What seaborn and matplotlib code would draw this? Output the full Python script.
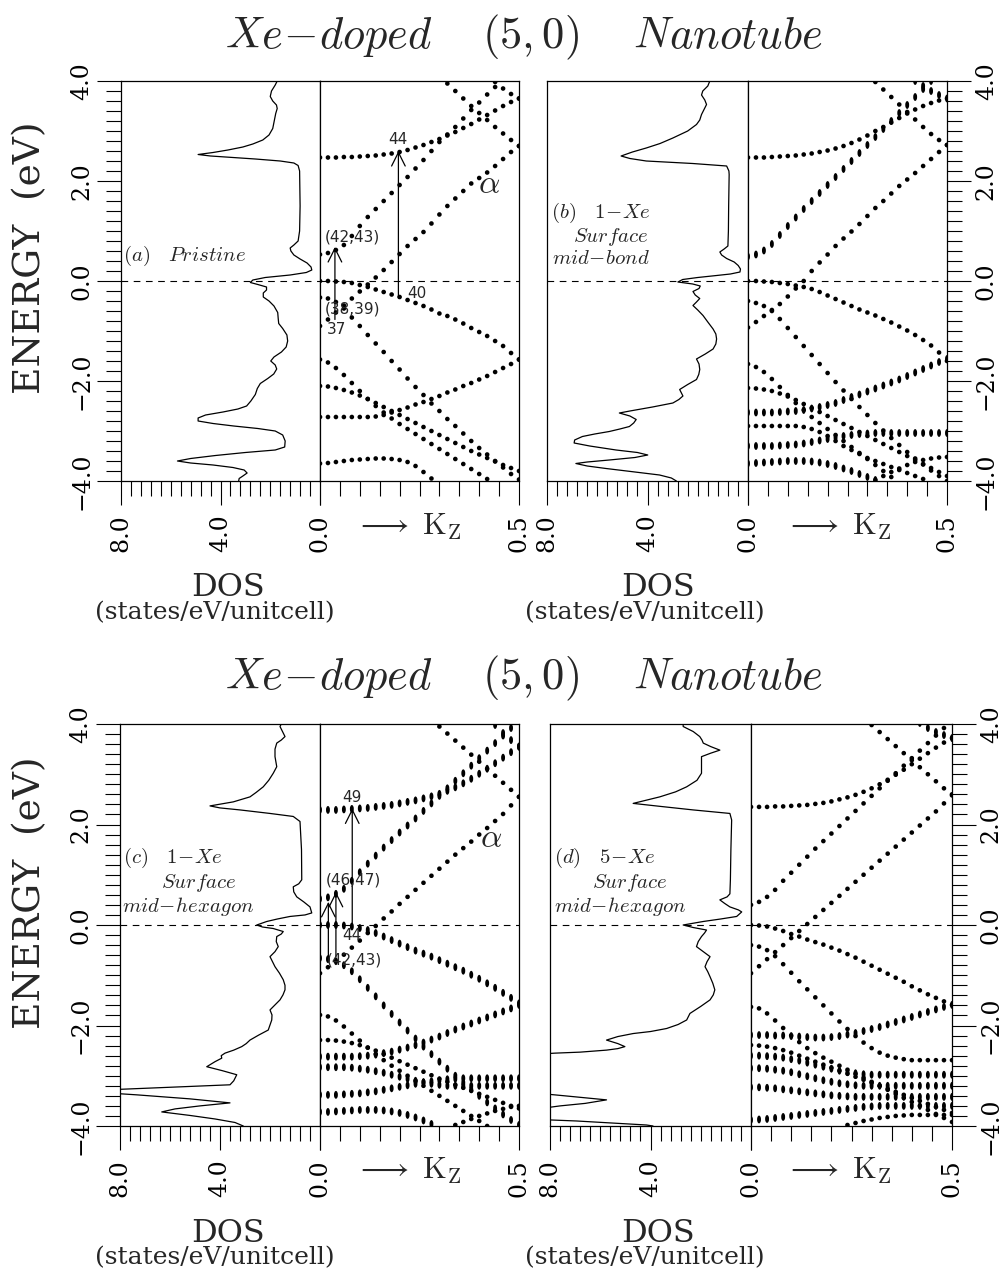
"""Xe-doped (5,0) nanotube: DOS + band structure, four panels (a)-(d)."""

import numpy as np
import pandas as pd
import matplotlib
matplotlib.use("Agg")
import matplotlib.pyplot as plt
import seaborn as sns
from matplotlib.markers import MarkerStyle
from matplotlib.transforms import Affine2D
from matplotlib.ticker import MultipleLocator, FixedLocator

W, H = 1001, 1275
NA = np.nan

# ── axis ticks / labels ──────────────────────────────────────────────────────
Y_TICKS = [-4, -2, 0, 2, 4]
Y_LABELS = ["\u22124.0", "\u22122.0", "0.0", "2.0", "4.0"]
DOS_TICKS = [8, 4, 0]
DOS_LABELS = ["8.0", "4.0", "0.0"]
KZ_TICKS = [0.0, 0.5]
KZ_LABELS = ["", "0.5"]

# k_z sample points of the band dots
KZ = [0.00, 0.02, 0.04, 0.06, 0.08, 0.10, 0.12, 0.14, 0.16, 0.18, 0.20, 0.22, 0.24,
      0.26, 0.28, 0.30, 0.32, 0.34, 0.36, 0.38, 0.40, 0.42, 0.44, 0.46, 0.48, 0.50]

# ── DOS curves: (energy, states/eV/unitcell) ─────────────────────────────────
DOS_A = [
    (4.00, 1.72), (3.92, 1.80), (3.80, 1.95), (3.69, 2.00), (3.60, 1.90), (3.52, 1.75),
    (3.45, 1.72), (3.35, 1.78), (3.20, 1.84), (3.05, 1.90), (2.92, 2.05), (2.82, 2.30),
    (2.74, 2.70), (2.68, 3.10), (2.62, 3.70), (2.57, 4.30), (2.53, 4.90), (2.50, 4.40),
    (2.47, 3.50), (2.44, 2.60), (2.40, 1.60), (2.36, 1.05), (2.31, 0.88), (2.20, 0.82),
    (1.50, 0.80), (1.00, 0.82), (0.80, 0.88), (0.72, 1.05), (0.66, 1.20), (0.60, 1.17),
    (0.52, 1.05), (0.44, 0.80), (0.36, 0.52), (0.28, 0.36), (0.22, 0.33), (0.17, 0.55),
    (0.12, 1.20), (0.07, 2.20), (0.02, 2.70), (-0.03, 2.80), (-0.07, 2.50), (-0.12, 2.15),
    (-0.18, 2.15), (-0.24, 2.28), (-0.32, 2.28), (-0.40, 2.05), (-0.50, 1.85), (-0.63, 1.70),
    (-0.75, 1.68), (-0.85, 1.66), (-0.95, 1.50), (-1.08, 1.33), (-1.20, 1.30), (-1.32, 1.36),
    (-1.42, 1.55), (-1.52, 1.85), (-1.60, 1.98), (-1.68, 1.80), (-1.76, 1.74), (-1.86, 1.86),
    (-1.95, 2.10), (-2.05, 2.40), (-2.15, 2.52), (-2.27, 2.60), (-2.40, 2.78), (-2.50, 2.95),
    (-2.56, 3.30), (-2.62, 3.90), (-2.68, 4.60), (-2.74, 4.90), (-2.80, 4.90), (-2.85, 4.30),
    (-2.90, 3.47), (-2.95, 2.50), (-3.00, 1.80), (-3.08, 1.50), (-3.20, 1.40), (-3.32, 1.42),
    (-3.38, 1.80), (-3.43, 3.00), (-3.49, 4.20), (-3.55, 5.20), (-3.60, 5.73), (-3.64, 5.20),
    (-3.68, 4.30), (-3.73, 3.50), (-3.78, 3.05), (-3.84, 2.93), (-3.90, 3.10), (-3.95, 3.25),
    (-4.00, 3.27),
]
DOS_B = [
    (4.00, 1.52), (3.90, 1.60), (3.80, 1.80), (3.72, 1.85), (3.62, 1.72), (3.53, 1.65),
    (3.43, 1.75), (3.33, 1.85), (3.22, 1.92), (3.13, 2.05), (3.00, 2.40), (2.86, 2.99),
    (2.75, 3.50), (2.66, 4.05), (2.58, 4.60), (2.50, 5.05), (2.45, 4.70), (2.40, 4.05),
    (2.35, 2.20), (2.30, 0.85), (2.20, 0.76), (2.13, 0.75), (1.50, 0.77), (1.00, 0.78),
    (0.70, 0.80), (0.64, 0.95), (0.58, 1.12), (0.52, 1.05), (0.45, 0.85), (0.38, 0.55),
    (0.31, 0.39), (0.24, 0.30), (0.18, 0.32), (0.14, 0.70), (0.11, 1.25), (0.07, 2.00),
    (0.03, 2.60), (-0.02, 2.79), (-0.06, 2.20), (-0.10, 1.90), (-0.15, 1.95), (-0.21, 2.19),
    (-0.28, 2.10), (-0.35, 1.92), (-0.42, 2.05), (-0.49, 2.19), (-0.58, 2.00), (-0.69, 1.79),
    (-0.82, 1.60), (-0.96, 1.39), (-1.06, 1.28), (-1.16, 1.25), (-1.26, 1.28), (-1.36, 1.39),
    (-1.46, 1.70), (-1.56, 2.05), (-1.66, 1.95), (-1.77, 1.92), (-1.87, 1.96), (-1.97, 2.05),
    (-2.07, 2.40), (-2.17, 2.72), (-2.24, 2.65), (-2.30, 2.59), (-2.37, 2.75), (-2.44, 2.99),
    (-2.52, 3.80), (-2.60, 4.70), (-2.64, 5.12), (-2.70, 4.70), (-2.77, 4.45), (-2.84, 4.55),
    (-2.91, 4.72), (-2.96, 5.10), (-3.01, 5.52), (-3.06, 6.10), (-3.11, 6.59), (-3.18, 6.90),
    (-3.24, 6.92), (-3.30, 6.30), (-3.38, 5.25), (-3.43, 4.40), (-3.48, 3.99), (-3.53, 4.50),
    (-3.58, 5.52), (-3.62, 6.40), (-3.65, 6.85), (-3.70, 6.40), (-3.75, 5.65), (-3.82, 4.50),
    (-3.88, 3.52), (-3.94, 3.05), (-4.00, 2.85),
]
DOS_C = [
    (4.00, 1.55), (3.95, 1.60), (3.85, 1.50), (3.75, 1.40), (3.68, 1.55), (3.62, 1.73),
    (3.50, 1.80), (3.35, 1.80), (3.15, 1.73), (3.02, 1.87), (2.88, 2.05), (2.75, 2.27),
    (2.64, 2.55), (2.55, 2.80), (2.45, 3.47), (2.37, 4.40), (2.33, 4.00), (2.29, 3.20),
    (2.22, 2.00), (2.16, 1.07), (2.06, 0.80), (1.50, 0.74), (0.90, 0.73), (0.82, 0.85),
    (0.76, 1.07), (0.66, 1.05), (0.56, 0.93), (0.46, 0.65), (0.36, 0.40), (0.24, 0.33),
    (0.20, 0.60), (0.17, 1.20), (0.12, 1.70), (0.07, 2.13), (0.00, 2.53), (-0.04, 2.30),
    (-0.07, 1.87), (-0.13, 1.47), (-0.18, 1.55), (-0.23, 1.73), (-0.33, 1.75), (-0.43, 1.67),
    (-0.53, 1.80), (-0.63, 2.00), (-0.73, 1.90), (-0.83, 1.80), (-0.96, 1.62), (-1.09, 1.47),
    (-1.20, 1.40), (-1.29, 1.40), (-1.39, 1.48), (-1.49, 1.60), (-1.59, 1.80), (-1.69, 2.00),
    (-1.79, 1.92), (-1.89, 1.93), (-1.99, 2.00), (-2.09, 2.07), (-2.19, 2.45), (-2.29, 2.80),
    (-2.36, 2.95), (-2.42, 3.13), (-2.49, 3.45), (-2.55, 3.80), (-2.60, 3.95), (-2.65, 3.93),
    (-2.72, 4.20), (-2.82, 4.53), (-2.90, 3.90), (-2.98, 3.33), (-3.10, 3.45), (-3.18, 3.60),
    (-3.27, 8.00), (-3.31, 9.50), (-3.38, 7.33), (-3.46, 5.20), (-3.54, 3.60), (-3.60, 4.80),
    (-3.66, 5.80), (-3.72, 6.33), (-3.79, 5.20), (-3.86, 4.20), (-3.93, 3.40), (-4.00, 3.07),
]
DOS_D = [
    (4.00, 2.70), (3.95, 2.70), (3.90, 2.50), (3.85, 2.30), (3.75, 2.04), (3.68, 1.95),
    (3.62, 1.90), (3.55, 1.60), (3.48, 1.24), (3.42, 1.60), (3.35, 1.97), (3.22, 1.97),
    (3.02, 1.97), (2.88, 2.15), (2.75, 2.56), (2.65, 3.00), (2.55, 3.63), (2.48, 4.20),
    (2.42, 4.69), (2.36, 3.60), (2.29, 2.30), (2.22, 0.84), (2.09, 0.77), (1.50, 0.80),
    (0.90, 0.82), (0.62, 0.84), (0.56, 0.95), (0.50, 1.24), (0.43, 1.05), (0.36, 0.84),
    (0.30, 0.50), (0.26, 0.37), (0.17, 0.57), (0.12, 1.20), (0.07, 1.90), (0.00, 2.70),
    (-0.05, 2.30), (-0.10, 1.77), (-0.16, 1.85), (-0.23, 1.97), (-0.33, 2.10), (-0.43, 2.17),
    (-0.53, 1.90), (-0.63, 1.63), (-0.73, 1.75), (-0.83, 1.83), (-0.93, 1.72), (-1.03, 1.63),
    (-1.16, 1.52), (-1.29, 1.44), (-1.39, 1.50), (-1.49, 1.63), (-1.62, 2.00), (-1.76, 2.43),
    (-1.89, 2.56), (-1.98, 2.90), (-2.06, 3.36), (-2.12, 4.00), (-2.16, 4.69), (-2.22, 5.30),
    (-2.29, 5.75), (-2.36, 5.30), (-2.42, 5.02), (-2.46, 5.30), (-2.49, 5.75), (-2.53, 6.80),
    (-2.55, 7.80), (-2.60, 9.50), (-3.30, 9.50), (-3.40, 7.40), (-3.48, 5.75), (-3.55, 6.60),
    (-3.60, 7.60), (-3.66, 8.50), (-3.75, 9.50), (-3.85, 9.50), (-3.90, 6.95), (-3.98, 4.16),
    (-4.00, 3.90),
]

# ── bands, panel (a) pristine ────────────────────────────────────────────────
A_C1 = [2.47, 2.47, 2.47, 2.48, 2.48, 2.49, 2.50, 2.51, 2.53, 2.55, 2.58, 2.62, 2.67,
        2.72, 2.78, 2.84, 2.91, 2.98, 3.06, 3.14, 3.23, 3.32, 3.41, 3.50, 3.58, 3.65]
A_B = [0.53, 0.56, 0.62, 0.72, 0.90, 1.10, 1.28, 1.44, 1.60, 1.76, 1.92, 2.08, 2.25,
       2.42, 2.60, 2.78, 2.93, 3.08, 3.25, 3.42, 3.57, 3.73, 3.88, 4.03, NA, NA]
A_D1 = [NA] * 13 + [NA, NA, NA, 3.95, 3.80, 3.65, 3.50, 3.36, 3.22, 3.08, 2.95, 2.82, 2.70]
A_D2 = [NA] * 13 + [NA] * 9 + [3.98, 3.85, 3.74, 3.65]
A_AL = [-0.90, -0.77, -0.63, -0.49, -0.35, -0.21, -0.07, 0.07, 0.22, 0.38, 0.54, 0.70, 0.84,
        0.98, 1.15, 1.33, 1.50, 1.65, 1.80, 1.95, 2.06, 2.17, 2.30, 2.44, 2.58, 2.70]
A_V1 = [0.00, 0.00, -0.01, -0.02, -0.04, -0.08, -0.12, -0.17, -0.22, -0.27, -0.32, -0.38, -0.44,
        -0.50, -0.57, -0.65, -0.70, -0.77, -0.85, -0.94, -1.02, -1.10, -1.20, -1.30, -1.44, -1.57]
A_V3 = [-0.33, -0.35, -0.42, -0.55, -0.73, -0.90, -1.08, -1.25, -1.42, -1.60, -1.77, -1.95, -2.12,
        -2.28, -2.45, -2.60, -2.76, -2.90, -3.05, -3.20, -3.34, -3.47, -3.60, -3.73, -3.86, -3.97]
A_V5 = [-1.57, -1.63, -1.74, -1.88, -2.04, -2.20, -2.36, -2.50, -2.63, -2.75, -2.86, -2.96, -3.06,
        -3.16, -3.26, -3.36, -3.46, -3.56, -3.66, -3.76, -3.86, -3.96, NA, NA, NA, NA]
A_V6 = [-2.10, -2.11, -2.14, -2.18, -2.23, -2.29, -2.36, -2.44, -2.52, -2.60, -2.68, -2.76, -2.84,
        -2.92, -3.00, -3.08, -3.16, -3.24, -3.32, -3.40, -3.47, -3.54, -3.61, -3.68, -3.74, -3.80]
A_R = [-2.72, -2.72, -2.72, -2.72, -2.72, -2.72, -2.72, -2.71, -2.68, -2.63, -2.58, -2.53, -2.47,
       -2.42, -2.36, -2.30, -2.23, -2.17, -2.10, -2.04, -1.97, -1.90, -1.82, -1.74, -1.66, -1.57]
A_V7 = [-3.65, -3.64, -3.62, -3.60, -3.58, -3.57, -3.56, -3.55, -3.55, -3.56, -3.58, -3.62, -3.70,
        -3.82, -3.95] + [NA] * 11

# ── bands, panel (b) 1-Xe surface mid-bond ───────────────────────────────────
B_C1 = [2.47, 2.47, 2.47, 2.48, 2.49, 2.50, 2.51, 2.53, 2.55, 2.58, 2.61, 2.65, 2.70,
        2.76, 2.83, 2.91, 3.00, 3.08, 3.17, 3.26, 3.35, 3.43, 3.50, 3.56, 3.61, 3.65]
B_B = [0.49, 0.53, 0.61, 0.74, 0.92, 1.10, 1.27, 1.44, 1.60, 1.76, 1.92, 2.08, 2.24,
       2.40, 2.56, 2.72, 2.88, 3.04, 3.20, 3.36, 3.52, 3.68, 3.84, 4.00, NA, NA]
B_D1 = [NA] * 13 + [NA, NA, NA, 3.98, 3.83, 3.68, 3.53, 3.38, 3.23, 3.08, 2.94, 2.82, 2.72]
B_D2 = [NA] * 13 + [NA] * 8 + [4.00, 3.90, 3.80, 3.72, 3.65]
B_AL = [-0.93, -0.82, -0.70, -0.58, -0.46, -0.31, -0.15, 0.00, 0.20, 0.37, 0.53, 0.70, 0.85,
        0.99, 1.14, 1.30, 1.46, 1.60, 1.75, 1.90, 2.03, 2.16, 2.30, 2.44, 2.58, 2.72]
B_V1 = [0.00, 0.00, -0.01, -0.02, -0.04, -0.06, -0.09, -0.12, -0.16, -0.22, -0.29, -0.36, -0.43,
        -0.50, -0.57, -0.63, -0.69, -0.76, -0.83, -0.91, -0.99, -1.08, -1.18, -1.29, -1.43, -1.60]
B_V3 = [-0.40, -0.44, -0.50, -0.60, -0.76, -0.94, -1.12, -1.30, -1.48, -1.66, -1.84, -2.02, -2.19,
        -2.36, -2.52, -2.68, -2.84, -2.99, -3.14, -3.28, -3.42, -3.55, -3.67, -3.79, -3.90, -4.00]
B_V5 = [-1.66, -1.72, -1.82, -1.96, -2.12, -2.28, -2.44, -2.58, -2.72, -2.84, -2.96, -3.08, -3.20,
        -3.32, -3.44, -3.56, -3.68, -3.80, -3.92] + [NA] * 7
B_V6 = [-2.14, -2.15, -2.17, -2.20, -2.25, -2.31, -2.38, -2.46, -2.54, -2.62, -2.70, -2.78, -2.86,
        -2.94, -3.02, -3.10, -3.18, -3.26, -3.34, -3.42, -3.50, -3.58, -3.66, -3.74, -3.82, -3.90]
B_R = [-2.63, -2.63, -2.63, -2.63, -2.62, -2.61, -2.60, -2.58, -2.55, -2.52, -2.48, -2.44, -2.38,
       -2.32, -2.27, -2.21, -2.15, -2.09, -2.03, -1.97, -1.90, -1.83, -1.76, -1.69, -1.62, -1.56]
B_V7 = [-2.90, -2.90, -2.90, -2.90, -2.90, -2.90, -2.90, -2.92, -2.96, -3.02, -3.10, -3.20, -3.30,
        -3.38, -3.46, -3.54, -3.60, -3.66, -3.72, -3.78, -3.84, -3.90, -3.96, NA, NA, NA]
B_V8 = [-3.30, -3.30, -3.30, -3.30, -3.29, -3.28, -3.27, -3.25, -3.22, -3.19, -3.16, -3.13, -3.10,
        -3.08, -3.06, -3.05, -3.04, -3.04, -3.04, -3.04, -3.04, -3.04, -3.04, -3.04, -3.04, -3.04]
B_V9 = [-3.65, -3.64, -3.63, -3.62, -3.61, -3.60, -3.60, -3.60, -3.61, -3.63, -3.66, -3.70, -3.75,
        -3.80, -3.86, -3.92, -3.98] + [NA] * 9
B_V10 = [NA] * 13 + [NA, NA, NA, -3.98, -3.90, -3.82, -3.75, -3.68, -3.62, -3.58, -3.55, -3.53, -3.52]

# ── bands, panel (c) 1-Xe surface mid-hexagon ────────────────────────────────
C_C1 = [2.29, 2.29, 2.29, 2.30, 2.31, 2.32, 2.33, 2.35, 2.37, 2.39, 2.42, 2.45, 2.48,
        2.52, 2.56, 2.61, 2.67, 2.74, 2.82, 2.91, 3.01, 3.11, 3.22, 3.33, 3.44, 3.55]
C_B = [0.52, 0.55, 0.62, 0.72, 0.88, 1.05, 1.22, 1.38, 1.54, 1.69, 1.84, 1.98, 2.12,
       2.27, 2.42, 2.57, 2.72, 2.87, 3.02, 3.17, 3.32, 3.47, 3.62, 3.77, 3.92, NA]
C_D1 = [NA] * 13 + [NA, NA, 3.95, 3.81, 3.67, 3.53, 3.39, 3.25, 3.11, 2.97, 2.83, 2.69, 2.55]
C_D2 = [NA] * 13 + [NA] * 9 + [3.98, 3.82, 3.68, 3.55]
C_AL = [-0.96, -0.84, -0.72, -0.59, -0.45, -0.31, -0.16, -0.02, 0.13, 0.27, 0.42, 0.56, 0.70,
        0.84, 0.98, 1.12, 1.26, 1.40, 1.53, 1.66, 1.80, 1.93, 2.07, 2.21, 2.38, 2.55]
C_V1 = [0.00, 0.00, 0.00, -0.01, -0.03, -0.06, -0.10, -0.16, -0.23, -0.30, -0.37, -0.44, -0.51,
        -0.57, -0.63, -0.70, -0.77, -0.84, -0.91, -0.99, -1.07, -1.16, -1.25, -1.35, -1.45, -1.56]
C_V3 = [-0.66, -0.68, -0.72, -0.80, -0.92, -1.08, -1.25, -1.42, -1.60, -1.77, -1.94, -2.10, -2.26,
        -2.42, -2.57, -2.72, -2.86, -3.00, -3.14, -3.27, -3.40, -3.53, -3.65, -3.77, -3.88, -3.98]
C_V5 = [-1.79, -1.82, -1.90, -2.02, -2.16, -2.30, -2.44, -2.57, -2.69, -2.80, -2.90, -3.00, -3.10,
        -3.20, -3.30, -3.40, -3.50, -3.60, -3.70, -3.80, -3.90, -4.00, NA, NA, NA, NA]
C_V6 = [-2.29, -2.29, -2.30, -2.32, -2.35, -2.39, -2.44, -2.50, -2.57, -2.64, -2.71, -2.78, -2.85,
        -2.92, -2.99, -3.06, -3.12, -3.18, -3.24, -3.30, -3.36, -3.42, -3.48, -3.54, -3.60, -3.65]
C_R = [-2.62, -2.62, -2.62, -2.62, -2.62, -2.61, -2.60, -2.58, -2.55, -2.52, -2.48, -2.44, -2.39,
       -2.34, -2.28, -2.22, -2.15, -2.08, -2.02, -1.96, -1.90, -1.84, -1.78, -1.72, -1.66, -1.59]
C_V7 = [-2.83, -2.83, -2.83, -2.83, -2.84, -2.86, -2.88, -2.91, -2.94, -2.98, -3.02, -3.06, -3.10,
        -3.13, -3.16, -3.18, -3.20, -3.20, -3.20, -3.20, -3.20, -3.20, -3.20, -3.20, -3.20, -3.20]
C_V8 = [-3.38, -3.38, -3.38, -3.37, -3.36, -3.35, -3.33, -3.31, -3.28, -3.25, -3.22, -3.19, -3.16,
        -3.13, -3.11, -3.09, -3.07, -3.06, -3.05, -3.05, -3.05, -3.05, -3.05, -3.05, -3.05, -3.05]
C_V9 = [-3.72, -3.72, -3.71, -3.70, -3.69, -3.68, -3.68, -3.68, -3.69, -3.71, -3.74, -3.78, -3.83,
        -3.89, -3.96] + [NA] * 11
C_V10 = [NA] * 13 + [NA] * 4 + [-3.98, -3.92, -3.86, -3.80, -3.75, -3.70, -3.66, -3.62, -3.60]

# ── bands, panel (d) 5-Xe surface mid-hexagon ────────────────────────────────
D_C1 = [2.35, 2.35, 2.35, 2.36, 2.36, 2.37, 2.38, 2.39, 2.41, 2.43, 2.46, 2.50, 2.54,
        2.59, 2.65, 2.72, 2.80, 2.89, 2.99, 3.09, 3.20, 3.31, 3.42, 3.53, 3.63, 3.72]
D_B = [0.40, 0.46, 0.56, 0.70, 0.88, 1.04, 1.20, 1.36, 1.52, 1.67, 1.82, 1.97, 2.12,
       2.27, 2.42, 2.57, 2.72, 2.87, 3.02, 3.17, 3.32, 3.47, 3.62, 3.77, 3.92, NA]
D_D1 = [NA] * 13 + [NA, NA, 3.98, 3.84, 3.70, 3.56, 3.42, 3.28, 3.14, 3.00, 2.86, 2.72, 2.60]
D_D2 = [NA] * 13 + [NA] * 8 + [4.02, 3.92, 3.84, 3.78, 3.72]
D_AL = [-0.96, -0.82, -0.68, -0.54, -0.40, -0.26, -0.12, 0.02, 0.16, 0.30, 0.44, 0.58, 0.72,
        0.86, 1.00, 1.14, 1.28, 1.42, 1.56, 1.70, 1.84, 1.98, 2.12, 2.26, 2.42, 2.58]
D_V1 = [0.00, -0.01, -0.03, -0.07, -0.12, -0.18, -0.23, -0.29, -0.34, -0.39, -0.45, -0.51, -0.58,
        -0.65, -0.73, -0.81, -0.89, -0.97, -1.05, -1.13, -1.22, -1.30, -1.38, -1.45, -1.52, -1.59]
D_V3 = [-0.40, -0.43, -0.50, -0.62, -0.78, -0.95, -1.12, -1.28, -1.44, -1.60, -1.76, -1.92, -2.07,
        -2.21, -2.34, -2.45, -2.54, -2.60, -2.64, -2.67, -2.69, -2.69, -2.69, -2.69, -2.69, -2.69]
D_V5 = [-1.63, -1.66, -1.76, -1.90, -2.05, -2.20, -2.33, -2.45, -2.55, -2.64, -2.72, -2.80, -2.88,
        -2.96, -3.04, -3.12, -3.20, -3.28, -3.36, -3.44, -3.52, -3.60, -3.68, -3.76, -3.84, -3.92]
D_R = [-2.19, -2.19, -2.19, -2.20, -2.20, -2.21, -2.22, -2.23, -2.24, -2.24, -2.23, -2.21, -2.18,
       -2.15, -2.11, -2.07, -2.03, -1.98, -1.93, -1.88, -1.83, -1.78, -1.73, -1.68, -1.63, -1.59]
D_V6 = [-2.39, -2.40, -2.42, -2.45, -2.49, -2.54, -2.60, -2.66, -2.72, -2.78, -2.84, -2.90, -2.96,
        -3.02, -3.08, -3.14, -3.20, -3.26, -3.32, -3.38, -3.44, -3.50, -3.56, -3.62, -3.68, -3.74]
D_V7 = [-2.60, -2.60, -2.61, -2.62, -2.64, -2.67, -2.70, -2.74, -2.78, -2.82, -2.86, -2.90, -2.93,
        -2.95, -2.97, -2.98, -2.98, -2.98, -2.98, -2.98, -2.98, -2.98, -2.98, -2.98, -2.98, -2.98]
D_V8 = [-2.85, -2.85, -2.86, -2.88, -2.90, -2.93, -2.97, -3.01, -3.05, -3.09, -3.12, -3.15, -3.17,
        -3.19, -3.20, -3.20, -3.20, -3.20, -3.20, -3.20, -3.20, -3.20, -3.20, -3.20, -3.20, -3.20]
D_V9 = [-3.23, -3.23, -3.24, -3.25, -3.27, -3.29, -3.31, -3.33, -3.35, -3.37, -3.39, -3.40, -3.41,
        -3.42, -3.42, -3.42, -3.42, -3.42, -3.42, -3.42, -3.42, -3.42, -3.42, -3.42, -3.42, -3.42]
D_V10 = [-3.88, -3.87, -3.86, -3.84, -3.82, -3.80, -3.78, -3.76, -3.74, -3.72, -3.70, -3.68, -3.66,
         -3.64, -3.62, -3.61, -3.60, -3.60, -3.60, -3.60, -3.60, -3.60, -3.60, -3.60, -3.60, -3.60]
D_V11 = [NA] * 12 + [-3.98,
         -3.94, -3.90, -3.87, -3.84, -3.82, -3.80, -3.79, -3.78, -3.78, -3.78, -3.78, -3.78, -3.78]

# transition arrows: (k_z, E_from, E_to)
ARROWS_A = [(0.0375, -0.77, 0.68), (0.197, -0.34, 2.60)]
ARROWS_C = [(0.021, -0.63, 0.46), (0.040, -0.63, 0.66), (0.081, 0.00, 2.32)]

# ── style ────────────────────────────────────────────────────────────────────
sns.set_theme(style="ticks")
plt.rcParams.update({
    "font.family": ["DejaVu Serif"],
    "mathtext.fontset": "cm",
    "axes.linewidth": 0.9,
    "axes.edgecolor": "black",
    "axes.facecolor": "white",
    "xtick.color": "black", "ytick.color": "black",
    "xtick.direction": "out", "ytick.direction": "out",
    "xtick.major.size": 17, "xtick.minor.size": 11,
    "ytick.major.size": 17, "ytick.minor.size": 11,
    "xtick.major.width": 0.8, "xtick.minor.width": 0.8,
    "ytick.major.width": 0.8, "ytick.minor.width": 0.8,
})
TICK_FS = 17
DOT = MarkerStyle("o")
PAIR = MarkerStyle("o", transform=Affine2D().scale(0.85, 1.7))

fig = plt.figure(figsize=(W / 100, H / 100), dpi=100, facecolor="white")


def add_box(x0, x1, y0, y1):
    return fig.add_axes([x0 / W, 1 - y1 / H, (x1 - x0) / W, (y1 - y0) / H])


def ftext(x, y, s, **kw):
    fig.text(x / W, 1 - y / H, s, **kw)


def band_frame(bands):
    parts = [pd.DataFrame({"kz": KZ, "E": e}) for e in bands]
    return pd.concat(parts, ignore_index=True).dropna()


def draw_panel(px, dos, single, paired, side, arrows=()):
    x0, xm, x1, y0, y1 = px
    ax_d = add_box(x0, xm, y0, y1)
    ax_b = add_box(xm, x1, y0, y1)

    df_dos = pd.DataFrame(dos, columns=["E", "dos"])
    sns.lineplot(data=df_dos, x="dos", y="E", sort=False, estimator=None,
                 color="black", linewidth=0.9, ax=ax_d)
    sns.scatterplot(data=band_frame(single), x="kz", y="E", marker=DOT, s=11,
                    color="black", edgecolor="none", linewidth=0, ax=ax_b, legend=False)
    if paired:
        sns.scatterplot(data=band_frame(paired), x="kz", y="E", marker=PAIR, s=11,
                        color="black", edgecolor="none", linewidth=0, ax=ax_b, legend=False)
    for k, e0, e1 in arrows:
        ax_b.annotate("", xy=(k, e1), xytext=(k, e0),
                      arrowprops=dict(arrowstyle="->,head_length=0.7,head_width=0.35",
                                      lw=0.9, color="black", shrinkA=0, shrinkB=0,
                                      mutation_scale=14))

    for ax in (ax_d, ax_b):
        ax.set_ylim(-4, 4)
        ax.axhline(0, color="black", lw=0.8, ls=(0, (6, 5)), zorder=0)
        ax.set_xlabel("")
        ax.set_ylabel("")
        ax.yaxis.set_major_locator(FixedLocator(Y_TICKS))
        ax.yaxis.set_minor_locator(MultipleLocator(0.2))
        ax.tick_params(axis="x", which="major", pad=7)
        ax.tick_params(axis="y", which="major", pad=3)
        ax.tick_params(top=False, which="both")
        for sp in ax.spines.values():
            sp.set_visible(True)
            sp.set_linewidth(0.9)

    ax_d.set_xlim(8, 0)
    ax_d.xaxis.set_major_locator(FixedLocator(DOS_TICKS))
    ax_d.xaxis.set_minor_locator(MultipleLocator(0.4))
    ax_d.set_xticklabels(DOS_LABELS, rotation=90, fontsize=TICK_FS)

    ax_b.set_xlim(0, 0.5)
    ax_b.xaxis.set_major_locator(FixedLocator(KZ_TICKS))
    ax_b.xaxis.set_minor_locator(MultipleLocator(0.05))
    ax_b.set_xticklabels(KZ_LABELS, rotation=90, fontsize=TICK_FS)

    if side == "left":
        ax_d.set_yticklabels(Y_LABELS, rotation=90, va="center", fontsize=TICK_FS)
        ax_b.tick_params(axis="y", which="both", left=False, right=False,
                         labelleft=False, labelright=False)
    else:
        ax_d.tick_params(axis="y", which="both", left=False, right=False,
                         labelleft=False, labelright=False)
        ax_b.yaxis.tick_right()
        ax_b.set_yticklabels(Y_LABELS, rotation=90, va="center", fontsize=TICK_FS)
    return ax_d, ax_b


# ── panels ───────────────────────────────────────────────────────────────────
draw_panel((121, 320, 519, 81, 481), DOS_A,
           [A_C1, A_B, A_D1, A_D2, A_AL, A_V1, A_V3, A_V5, A_V6, A_R, A_V7], [],
           "left", ARROWS_A)
draw_panel((547, 748, 947, 81, 481), DOS_B,
           [B_C1, B_D1, B_AL, B_V1, B_V3, B_V5, B_V6, B_V7, B_V10],
           [B_B, B_D2, B_R, B_V8, B_V9], "right")
draw_panel((120, 320, 519, 724, 1126), DOS_C,
           [C_D1, C_AL, C_V5, C_V6, C_V10],
           [C_C1, C_B, C_D2, C_V1, C_V3, C_R, C_V7, C_V8, C_V9], "left", ARROWS_C)
draw_panel((550, 751, 952, 724, 1126), DOS_D,
           [D_C1, D_B, D_D1, D_AL, D_V1, D_V3, D_V5, D_V6, D_V11],
           [D_D2, D_R, D_V7, D_V8, D_V9, D_V10], "right")

# ── titles, axis captions ────────────────────────────────────────────────────
TITLE = r"$Xe\!-\!doped\ \ \ \ (5,0)\ \ \ \ Nanotube$"
for ty, ey, by in [(37, 258, 481), (678, 893, 1126)]:
    ftext(524, ty, TITLE, fontsize=32, ha="center", va="center")
    ftext(30, ey, "ENERGY  (eV)", fontsize=27, rotation=90, ha="center", va="center")
    for cx in (0, 430):
        ftext(228 + cx, by + 107, "DOS", fontsize=23, ha="center", va="center")
        ftext(215 + cx, by + 132, "(states/eV/unitcell)", fontsize=18, ha="center", va="center")
        ftext(408 + cx, by + 45, r"$\longrightarrow\ \mathrm{K_Z}$", fontsize=22,
              ha="center", va="center")

# ── panel captions ───────────────────────────────────────────────────────────
CAP = dict(fontsize=15, va="center")
ftext(123, 256, r"$(a)\ \ \ Pristine$", ha="left", **CAP)
ftext(551, 213, r"$(b)\ \ \ 1\!-\!Xe$", ha="left", **CAP)
ftext(611, 237, r"$Surface$", ha="center", **CAP)
ftext(552, 259, r"$mid\!-\!bond$", ha="left", **CAP)
ftext(123, 858, r"$(c)\ \ \ 1\!-\!Xe$", ha="left", **CAP)
ftext(199, 883, r"$Surface$", ha="center", **CAP)
ftext(122, 906, r"$mid\!-\!hexagon$", ha="left", **CAP)
ftext(554, 858, r"$(d)\ \ \ 5\!-\!Xe$", ha="left", **CAP)
ftext(630, 883, r"$Surface$", ha="center", **CAP)
ftext(554, 906, r"$mid\!-\!hexagon$", ha="left", **CAP)

NOTE = dict(fontsize=11, family="DejaVu Sans", ha="center", va="center")
ftext(352, 237, "(42,43)", **NOTE)
ftext(398, 140, "44", **NOTE)
ftext(353, 309, "(38,39)", **NOTE)
ftext(336, 329, "37", **NOTE)
ftext(417, 294, "40", **NOTE)
ftext(352, 798, "49", **NOTE)
ftext(353, 880, "(46,47)", **NOTE)
ftext(352, 935, "44", **NOTE)
ftext(354, 960, "(42,43)", **NOTE)
ftext(489, 184, r"$\alpha$", fontsize=24, ha="center", va="center")
ftext(491, 838, r"$\alpha$", fontsize=24, ha="center", va="center")

fig.savefig("out.png", dpi=100, facecolor="white")
